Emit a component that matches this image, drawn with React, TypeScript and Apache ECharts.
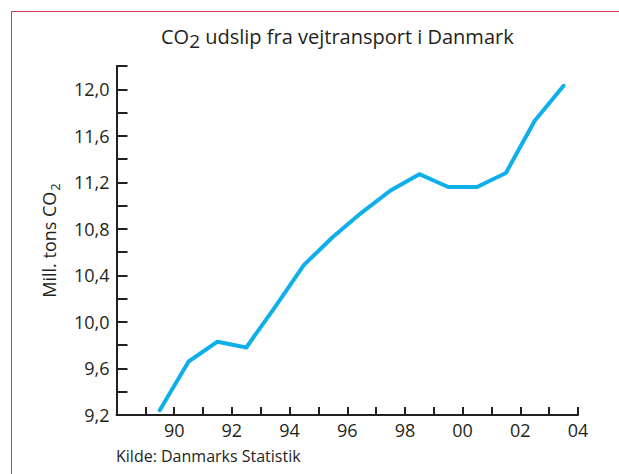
import React, { useEffect, useRef } from "react";
import * as echarts from "echarts";

const years = [1989.5, 1990.5, 1991.5, 1992.5, 1993.5, 1994.5, 1995.5, 1996.5, 1997.5, 1998.5, 1999.5, 2000.5, 2001.5, 2002.5, 2003.5];
const emissions = [9.24, 9.66, 9.83, 9.78, 10.13, 10.49, 10.73, 10.94, 11.13, 11.27, 11.16, 11.16, 11.28, 11.73, 12.03];
const xLabelYears = [1990, 1992, 1994, 1996, 1998, 2000, 2002, 2004];
const yLabelValues = [9.2, 9.6, 10.0, 10.4, 10.8, 11.2, 11.6, 12.0];

const FONT = "Open Sans";
const INK = "#231f20";

export default function App() {
  const ref = useRef<HTMLDivElement>(null);
  useEffect(() => {
    document.body.style.margin = "0";
    const chart = echarts.init(ref.current!, null, { renderer: "svg" });
    chart.setOption({
      animation: false,
      backgroundColor: "#ffffff",
      textStyle: { fontFamily: FONT },
      title: {
        text: "{n|CO}{s|2}{n| udslip fra vejtransport i Danmark}",
        left: 161,
        top: 23,
        padding: 0,
        textStyle: {
          fontWeight: "normal",
          rich: {
            n: { fontFamily: FONT, fontSize: 20, fontWeight: "normal", color: INK },
            s: { fontFamily: FONT, fontSize: 19, fontWeight: "normal", color: INK, padding: [8, 0, 0, 0] },
          },
        },
      },
      grid: { left: 116.5, top: 66, right: 41, bottom: 59, containLabel: false },
      xAxis: {
        type: "value",
        min: 1988,
        max: 2004,
        interval: 1,
        splitLine: { show: false },
        axisLine: { show: true, lineStyle: { color: INK, width: 2 } },
        axisTick: { show: true, inside: true, length: 8, lineStyle: { color: INK, width: 2 } },
        axisLabel: {
          color: INK,
          fontSize: 18,
          fontFamily: FONT,
          margin: 6,
          showMinLabel: true,
          showMaxLabel: true,
          formatter: (v: number) => {
            const y = Math.round(v);
            return xLabelYears.includes(y) ? String(y % 100).padStart(2, "0") : "";
          },
        },
      },
      yAxis: {
        type: "value",
        min: 9.2,
        max: 12.2,
        interval: 0.2,
        splitLine: { show: false },
        axisLine: { show: true, lineStyle: { color: INK, width: 2 } },
        axisTick: { show: true, inside: true, length: 11, lineStyle: { color: INK, width: 2 } },
        axisLabel: {
          color: INK,
          fontSize: 18,
          fontFamily: FONT,
          margin: 7,
          formatter: (v: number) => {
            const hit = yLabelValues.find((t) => Math.abs(t - v) < 1e-6);
            return hit === undefined ? "" : hit.toFixed(1).replace(".", ",");
          },
        },
        name: "{n|Mill. tons CO}{s|2}",
        nameLocation: "middle",
        nameGap: 55,
        nameRotate: 90,
        nameTextStyle: {
          rich: {
            n: { fontFamily: FONT, fontSize: 18, color: INK },
            s: { fontFamily: FONT, fontSize: 13, color: INK, padding: [12, 0, 0, 1] },
          },
        },
      },
      series: [
        {
          type: "line",
          data: years.map((y, i) => [y, emissions[i]]),
          showSymbol: false,
          symbol: "none",
          lineStyle: { color: "#0eafea", width: 4, cap: "round", join: "round" },
        },
      ],
      graphic: [
        { type: "line", shape: { x1: 11.5, y1: 11.5, x2: 619, y2: 11.5 }, style: { stroke: "#d63a45", lineWidth: 1 } },
        { type: "line", shape: { x1: 11.5, y1: 11.5, x2: 11.5, y2: 474 }, style: { stroke: "#d63a45", lineWidth: 1 } },
        {
          type: "text",
          left: 116,
          top: 448,
          style: { text: "Kilde: Danmarks Statistik", fontFamily: FONT, fontSize: 16, fill: INK },
        },
      ],
    });
    return () => chart.dispose();
  }, []);
  return <div ref={ref} style={{ width: 619, height: 474 }} />;
}
